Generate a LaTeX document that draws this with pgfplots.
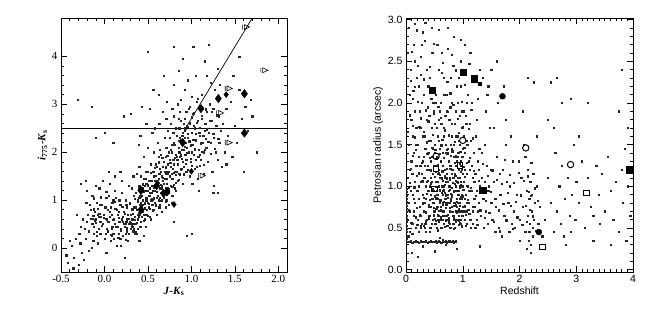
\documentclass[border=0pt]{standalone}
\usepackage{pgfplots}
\pgfplotsset{compat=1.18}
\usepackage{fontspec}
\setmainfont{Liberation Serif}
\newfontfamily\sansf{Liberation Sans}
\pgfdeclareplotmark{limarr}{%
  \pgfpathmoveto{\pgfqpoint{-\pgfplotmarksize}{-0.7\pgfplotmarksize}}%
  \pgfpathlineto{\pgfqpoint{-\pgfplotmarksize}{0.7\pgfplotmarksize}}%
  \pgfpathmoveto{\pgfqpoint{-0.5\pgfplotmarksize}{-0.7\pgfplotmarksize}}%
  \pgfpathlineto{\pgfqpoint{\pgfplotmarksize}{0pt}}%
  \pgfpathlineto{\pgfqpoint{-0.5\pgfplotmarksize}{0.7\pgfplotmarksize}}%
  \pgfpathclose
  \pgfusepathqstroke
}
\pgfplotsset{
  every axis/.append style={
    scale only axis, tick align=inside, major tick length=6pt, minor tick length=3pt,
    axis line style={line width=0.6pt}, every tick/.style={black, line width=0.5pt},
    /pgf/number format/assume math mode=true,
  },
  dots/.style={only marks, mark=square*, mark size=0.6pt, black!85, mark options={draw=none, fill=black!85}},
}
\begin{document}
\begin{tikzpicture}
\useasboundingbox (0pt,0pt) rectangle (651pt,312pt);
%---------------- left panel
\begin{axis}[at={(61pt,40pt)}, anchor=south west, width=226pt, height=254pt,
  xmin=-0.5, xmax=2.1, ymin=-0.5, ymax=4.8,
  xtick={-0.5,0,0.5,1,1.5,2}, ytick={0,1,2,3,4},
  minor x tick num=4, minor y tick num=4,
  xticklabel style={/pgf/number format/.cd, fixed, fixed zerofill, precision=1},
  ticklabel style={font=\fontsize{11}{12}\selectfont},
  xlabel={\textbf{\textit{J}-\textit{K}\textsubscript{s}}},
  ylabel={\textbf{\textit{i}\textsubscript{775}-\textit{K}\textsubscript{s}}},
  label style={font=\fontsize{11}{12}\selectfont},
  xlabel style={yshift=3pt}, ylabel style={yshift=-2pt},
]
\addplot[dots] coordinates {
(-0.42,-0.3) (-0.38,0.05) (-0.35,-0.2) (-0.33,0.2) (-0.30,-0.35) (-0.28,0.1) (-0.27,0.45) (-0.26,-0.1) (-0.40,0.15) (-0.36,-0.42) (-0.31,3.1) (-0.29,0.3) (-0.44,-0.15) (-0.25,0.6) (-0.32,0.7) (-0.27,1.35) (-0.22,1.4) (-0.24,-0.25)
(-0.22,0.2) (-0.2,0.55) (-0.19,0.7) (-0.18,0.35) (-0.17,0.9) (-0.16,0.62) (-0.15,0.0) (-0.14,1.1) (-0.13,0.68) (-0.12,0.45) (-0.11,0.75) (-0.10,0.6) (-0.09,0.25) (-0.08,0.82) (-0.07,0.65) (-0.06,1.25) (-0.05,0.55) (-0.21,0.95) (-0.18,-0.05) (-0.14,0.5) (-0.12,0.3) (-0.1,1.3) (-0.08,0.1) (-0.06,0.72) (-0.23,0.4) (-0.16,0.8) (-0.11,0.58) (-0.07,0.4) (-0.2,1.2) (-0.15,2.95) (-0.1,2.3) (-0.13,0.15) (-0.09,0.95) (-0.05,0.3)
(-0.04,0.66) (-0.03,0.9) (-0.02,0.5) (-0.01,0.7) (0.0,0.2) (0.01,0.62) (0.02,1.05) (0.03,0.4) (0.04,0.8) (0.05,0.55) (0.06,1.35) (0.07,0.15) (0.08,0.7) (0.09,0.95) (0.1,0.3) (0.11,0.6) (0.12,1.2) (0.13,0.45) (0.14,0.8) (0.0,0.85) (0.02,-0.1) (0.04,0.35) (0.06,0.65) (0.08,0.25) (0.1,1.0) (0.12,0.5) (0.14,0.05) (-0.02,1.4) (0.03,0.6) (0.07,0.85) (0.11,0.2) (0.13,1.05) (0.01,0.3) (0.05,1.1) (0.09,0.45) (0.15,0.7) (0.0,2.4) (0.05,1.6) (0.1,2.2) (0.12,1.5)
(0.16,0.3) (0.17,0.55) (0.18,0.9) (0.19,0.4) (0.2,0.6) (0.21,0.25) (0.22,0.75) (0.23,0.45) (0.24,1.0) (0.25,0.55) (0.26,0.35) (0.27,0.7) (0.28,0.5) (0.29,0.95) (0.3,0.4) (0.31,0.6) (0.32,0.8) (0.33,0.5) (0.34,1.1) (0.35,0.65) (0.16,0.75) (0.18,0.2) (0.2,1.15) (0.22,0.5) (0.24,0.3) (0.26,0.85) (0.28,0.3) (0.3,0.7) (0.32,0.45) (0.34,0.85) (0.17,1.0) (0.21,0.65) (0.25,0.9) (0.29,0.55) (0.33,0.35) (0.19,0.05) (0.23,-0.2) (0.27,0.15) (0.31,1.25) (0.35,0.3) (0.2,1.4) (0.28,1.3) (0.33,1.5) (0.22,2.75) (0.3,2.8) (0.18,1.6) (0.26,0.6) (0.3,0.52) (0.32,0.62) (0.24,0.5)
(0.36,0.5) (0.37,0.8) (0.38,1.0) (0.39,0.65) (0.4,1.3) (0.41,0.9) (0.42,0.55) (0.43,1.1) (0.44,0.75) (0.45,1.45) (0.46,0.95) (0.47,1.2) (0.48,0.7) (0.49,1.05) (0.5,1.6) (0.51,0.85) (0.52,1.25) (0.53,1.0) (0.54,1.4) (0.55,0.9) (0.36,1.15) (0.38,0.4) (0.4,0.7) (0.42,1.5) (0.44,1.0) (0.46,0.6) (0.48,1.35) (0.5,0.95) (0.52,0.65) (0.54,1.15) (0.37,0.3) (0.39,1.25) (0.41,0.45) (0.43,0.85) (0.45,0.7) (0.47,1.6) (0.49,0.8) (0.51,1.4) (0.53,1.75) (0.55,1.3) (0.36,0.85) (0.4,1.05) (0.44,1.25) (0.48,1.0) (0.52,1.1) (0.38,0.6) (0.42,0.95) (0.46,1.3) (0.5,1.2) (0.54,1.0) (0.4,1.7) (0.45,1.9) (0.5,2.1) (0.41,2.35) (0.48,2.6) (0.43,2.95) (0.39,2.15) (0.52,2.9) (0.37,1.55) (0.47,0.45) (0.53,0.6) (0.45,0.25) (0.5,4.1) (0.55,2.4) (0.4,0.15)
(0.56,1.2) (0.57,1.5) (0.58,0.95) (0.59,1.35) (0.6,1.7) (0.61,1.1) (0.62,1.45) (0.63,0.85) (0.64,1.25) (0.65,1.6) (0.66,1.0) (0.67,1.4) (0.68,1.8) (0.69,1.2) (0.7,1.55) (0.71,1.0) (0.72,1.35) (0.73,1.75) (0.74,1.15) (0.75,1.5) (0.56,0.8) (0.58,1.4) (0.6,1.05) (0.62,1.9) (0.64,0.9) (0.66,1.5) (0.68,1.1) (0.7,1.9) (0.72,1.6) (0.74,2.0) (0.57,1.05) (0.59,1.75) (0.61,1.3) (0.63,1.55) (0.65,1.15) (0.67,1.7) (0.69,1.45) (0.71,2.1) (0.73,1.25) (0.75,1.85) (0.56,1.6) (0.6,1.4) (0.64,1.65) (0.68,1.35) (0.72,1.45) (0.58,1.2) (0.62,1.0) (0.66,1.3) (0.7,1.25) (0.74,1.6) (0.57,2.0) (0.61,2.2) (0.65,1.95) (0.69,2.3) (0.73,2.45) (0.6,0.7) (0.66,0.75) (0.7,0.85) (0.63,2.6) (0.67,2.85) (0.71,2.7) (0.75,2.3) (0.62,3.2) (0.68,3.6) (0.72,3.05) (0.58,2.5) (0.74,0.9) (0.56,3.3) (0.64,2.05) (0.7,1.7)
(0.76,1.7) (0.77,2.0) (0.78,1.45) (0.79,1.85) (0.8,2.2) (0.81,1.6) (0.82,1.95) (0.83,2.35) (0.84,1.75) (0.85,2.1) (0.86,2.5) (0.87,1.9) (0.88,2.25) (0.89,1.65) (0.9,2.4) (0.91,2.05) (0.92,2.7) (0.93,2.2) (0.94,1.85) (0.95,2.55) (0.76,1.3) (0.78,2.15) (0.8,1.75) (0.82,2.5) (0.84,1.4) (0.86,2.0) (0.88,2.65) (0.9,1.8) (0.92,2.3) (0.94,2.85) (0.77,1.55) (0.79,2.4) (0.81,1.25) (0.83,1.9) (0.85,2.7) (0.87,2.3) (0.89,2.05) (0.91,1.55) (0.93,2.5) (0.95,2.1) (0.78,1.1) (0.82,1.2) (0.86,1.55) (0.9,1.35) (0.94,1.6) (0.76,2.6) (0.8,2.75) (0.84,3.0) (0.88,3.1) (0.92,3.3) (0.8,3.4) (0.85,3.7) (0.9,3.95) (0.8,4.2) (0.78,2.9) (0.87,2.85) (0.83,1.6) (0.91,2.6) (0.77,0.95) (0.93,1.95)
(0.96,2.3) (0.97,2.0) (0.98,2.6) (0.99,1.8) (1.0,2.4) (1.01,2.15) (1.02,2.8) (1.03,1.95) (1.04,2.5) (1.05,2.25) (1.06,1.7) (1.07,2.65) (1.08,2.05) (1.09,2.95) (1.1,2.35) (1.11,1.85) (1.12,2.7) (1.13,2.2) (1.14,1.55) (1.15,2.45) (0.97,2.9) (1.0,3.15) (1.03,2.55) (1.06,3.05) (1.09,2.4) (1.12,3.2) (0.98,1.5) (1.01,1.35) (1.04,1.65) (1.07,1.45) (1.1,1.95) (1.13,2.9) (0.96,3.5) (1.02,4.2) (1.05,3.6) (1.0,2.0) (1.08,1.2) (1.14,2.0)
(1.16,2.6) (1.17,2.1) (1.18,2.85) (1.19,1.8) (1.2,2.4) (1.21,3.0) (1.22,2.2) (1.23,2.65) (1.24,1.6) (1.25,2.9) (1.26,2.3) (1.27,3.3) (1.28,2.0) (1.29,2.55) (1.3,1.85) (1.31,2.75) (1.32,2.2) (1.33,3.4) (1.34,2.45) (1.35,1.7) (1.18,3.6) (1.22,3.45) (1.26,1.3) (1.3,3.75) (1.2,4.25) (1.15,3.9)
(1.36,2.6) (1.38,2.0) (1.4,2.9) (1.42,2.35) (1.45,3.05) (1.47,1.9) (1.5,2.55) (1.52,2.2) (1.55,3.3) (1.58,2.7) (1.6,1.6) (1.62,2.95) (1.65,2.45) (1.68,3.1) (1.7,2.75) (1.4,1.75) (1.48,3.6) (1.55,4.0) (1.3,1.15) (1.25,1.15) (1.75,2.0) (1.0,0.3) (0.95,0.25) (0.8,0.55)
(0.312,0.487) (0.327,0.712) (0.341,0.598) (0.356,0.843) (0.368,0.532) (0.382,0.967) (0.397,0.741) (0.411,1.083) (0.426,0.662) (0.438,0.912) (0.452,1.187) (0.467,0.831) (0.481,1.046) (0.494,1.312) (0.508,0.926) (0.521,1.153) (0.536,1.407) (0.549,1.021) (0.563,1.268) (0.577,0.947) (0.591,1.512) (0.604,1.183) (0.618,1.366) (0.632,1.057) (0.646,1.594) (0.659,1.247) (0.673,1.461) (0.687,1.126) (0.701,1.673) (0.714,1.338) (0.728,1.552) (0.742,1.229) (0.756,1.776) (0.769,1.441) (0.783,1.652) (0.797,1.318) (0.811,1.891) (0.824,1.537) (0.838,1.762) (0.852,1.419) (0.866,2.006) (0.879,1.643) (0.893,1.871) (0.907,1.532) (0.921,2.117) (0.934,1.754) (0.948,1.983) (0.962,1.637) (0.976,2.228) (0.989,1.866)
(0.318,0.823) (0.334,0.391) (0.349,1.028) (0.363,0.347) (0.378,0.694) (0.393,1.211) (0.407,0.448) (0.422,0.778) (0.436,1.334) (0.451,0.563) (0.465,0.936) (0.479,1.452) (0.493,0.682) (0.507,1.097) (0.522,0.817) (0.536,1.571) (0.551,0.778) (0.565,1.036) (0.579,1.683) (0.594,0.893) (0.608,1.412) (0.622,1.791) (0.637,0.987) (0.651,1.317) (0.665,1.887) (0.679,1.062) (0.694,1.598) (0.708,0.968) (0.722,1.931) (0.737,1.174) (0.751,1.487) (0.765,2.053) (0.779,1.283) (0.794,1.571) (0.808,2.152) (0.822,1.365) (0.837,1.847) (0.851,2.238) (0.865,1.528) (0.879,1.936) (0.894,2.337) (0.908,1.689) (0.922,2.452) (0.936,1.842) (0.951,2.531) (0.965,2.012) (0.979,2.611) (0.994,2.146) (1.008,2.732) (1.022,2.268)
(1.036,2.063) (1.051,2.387) (1.065,2.612) (1.079,1.912) (1.094,2.512) (1.108,2.187) (1.122,2.766) (1.137,2.341) (1.151,2.059) (1.165,2.897) (1.179,2.478) (1.194,2.213) (1.208,2.653) (1.222,1.968) (1.237,2.842) (1.251,2.391) (1.265,2.073) (1.279,2.547) (1.294,2.771) (1.308,2.281) (0.961,2.388) (0.983,2.942) (1.004,1.721) (1.027,2.832) (1.048,1.841) (1.071,3.112) (1.093,1.718) (1.115,2.013) (1.138,1.732) (1.161,2.283)
(-0.142,0.614) (-0.121,0.812) (-0.098,0.527) (-0.076,0.703) (-0.054,0.911) (-0.032,0.462) (-0.011,0.638) (0.012,0.851) (0.034,0.547) (0.057,0.762) (0.079,0.398) (0.101,0.583) (0.123,0.827) (0.146,0.451) (0.168,0.626) (0.191,0.368) (0.213,0.547) (0.236,0.721) (0.258,0.412) (0.281,0.613) (-0.087,0.347) (-0.043,1.062) (0.021,1.183) (0.068,0.271) (0.112,0.972) (0.157,0.217) (0.203,0.862) (0.248,0.176) (0.293,0.932) (-0.128,1.041)
};
\addplot[black, line width=0.7pt] coordinates {(-0.5,2.5) (2.1,2.5)};
\addplot[black, line width=0.7pt] coordinates {(0.933,2.5) (1.7,4.8)};
\addplot[only marks, mark=diamond*, mark size=4.2pt, black] coordinates {
(0.42,1.2) (0.42,0.8) (0.6,1.3) (0.68,1.14) (0.72,1.17) (0.9,2.2) (1.11,2.91) (1.31,3.12) (1.61,3.22) (1.61,2.40)};
\addplot[only marks, mark=diamond*, mark size=3pt, black] coordinates {
(0.80,0.91) (1.0,1.6) (1.40,3.2)};
\addplot[only marks, mark=limarr, mark size=3.5pt, black, line width=0.6pt] coordinates {
(1.63,4.61) (1.84,3.71) (1.43,3.33) (1.33,2.82) (1.43,2.20) (1.12,1.51)};
\end{axis}
%---------------- right panel
\begin{axis}[at={(406pt,40pt)}, anchor=south west, width=227pt, height=254pt,
  xmin=0, xmax=4, ymin=-0.03, ymax=3.02,
  xtick={0,1,2,3,4}, ytick={0,0.5,1,1.5,2,2.5,3},
  minor x tick num=9, minor y tick num=4,
  yticklabel style={/pgf/number format/.cd, fixed, fixed zerofill, precision=1},
  ticklabel style={font=\sansf\fontsize{10.5}{12}\selectfont},
  xlabel={Redshift}, ylabel={Petrosian radius (arcsec)},
  label style={font=\sansf\fontsize{10.5}{12}\selectfont},
  xlabel style={yshift=3pt}, ylabel style={yshift=-2pt},
]
\addplot[dots] coordinates {
(0.02,0.6) (0.03,1.1) (0.04,0.8) (0.05,1.5) (0.06,0.45) (0.07,2.1) (0.08,0.95) (0.09,1.3) (0.03,2.6) (0.05,2.9) (0.07,0.7) (0.09,1.8) (0.04,0.4) (0.06,1.2) (0.08,2.4) (0.02,1.65)
(0.11,0.55) (0.12,0.9) (0.13,1.4) (0.14,0.7) (0.15,1.9) (0.16,1.05) (0.17,0.5) (0.18,1.25) (0.19,2.3) (0.12,1.6) (0.14,2.7) (0.16,0.8) (0.18,1.7) (0.11,1.15) (0.13,0.65) (0.15,2.95) (0.17,1.5) (0.19,0.95) (0.12,2.05) (0.16,2.5)
(0.21,0.6) (0.22,1.0) (0.23,1.35) (0.24,0.75) (0.25,1.7) (0.26,0.5) (0.27,1.15) (0.28,2.0) (0.29,0.9) (0.21,1.5) (0.23,2.2) (0.25,0.65) (0.27,2.7) (0.29,1.3) (0.22,0.85) (0.24,1.9) (0.26,1.05) (0.28,0.55) (0.3,1.6) (0.21,2.45) (0.25,1.25) (0.29,2.85) (0.23,0.45)
(0.31,0.7) (0.32,1.1) (0.33,0.5) (0.34,1.45) (0.35,0.85) (0.36,1.8) (0.37,0.6) (0.38,1.25) (0.39,0.95) (0.31,2.1) (0.33,1.6) (0.35,1.0) (0.37,2.4) (0.39,1.4) (0.32,0.8) (0.34,0.55) (0.36,1.2) (0.38,1.95) (0.4,0.75) (0.31,1.35) (0.33,2.75) (0.35,0.45) (0.37,1.05) (0.39,2.2) (0.4,1.55)
(0.41,0.65) (0.42,1.0) (0.43,1.3) (0.44,0.5) (0.45,1.7) (0.46,0.85) (0.47,1.15) (0.48,2.0) (0.49,0.7) (0.5,1.4) (0.41,1.85) (0.43,0.9) (0.45,1.05) (0.47,0.6) (0.49,1.25) (0.42,2.3) (0.44,1.55) (0.46,2.6) (0.48,0.95) (0.5,0.55) (0.41,1.2) (0.43,0.75) (0.45,2.9) (0.47,1.45) (0.49,1.9) (0.42,0.45) (0.44,1.1) (0.46,1.35) (0.48,0.8)
(0.51,0.7) (0.52,1.05) (0.53,0.55) (0.54,1.35) (0.55,0.9) (0.56,1.6) (0.57,0.65) (0.58,1.2) (0.59,0.8) (0.6,1.9) (0.51,1.5) (0.53,2.1) (0.55,0.75) (0.57,1.0) (0.59,1.45) (0.52,0.85) (0.54,0.5) (0.56,1.15) (0.58,2.4) (0.6,0.95) (0.51,1.75) (0.53,1.25) (0.55,2.7) (0.57,1.8) (0.59,0.6) (0.52,2.0) (0.54,0.95) (0.56,0.6) (0.58,1.55) (0.6,1.1)
(0.61,0.75) (0.62,1.1) (0.63,0.6) (0.64,1.4) (0.65,0.9) (0.66,1.7) (0.67,0.55) (0.68,1.2) (0.69,0.85) (0.7,1.5) (0.61,2.0) (0.63,1.0) (0.65,1.25) (0.67,0.7) (0.69,1.85) (0.62,0.5) (0.64,0.95) (0.66,2.3) (0.68,0.65) (0.7,1.05) (0.61,1.3) (0.63,2.6) (0.65,0.8) (0.67,1.6) (0.69,1.1) (0.62,1.75) (0.64,0.7) (0.66,1.0) (0.68,2.1) (0.7,0.6)
(0.71,0.8) (0.72,1.15) (0.73,0.6) (0.74,1.45) (0.75,0.95) (0.76,1.8) (0.77,0.7) (0.78,1.25) (0.79,0.85) (0.8,1.6) (0.71,2.1) (0.73,1.05) (0.75,1.3) (0.77,0.55) (0.79,2.3) (0.72,0.65) (0.74,0.9) (0.76,1.0) (0.78,1.95) (0.8,0.75) (0.71,1.4) (0.73,2.65) (0.75,0.6) (0.77,1.1) (0.79,1.5) (0.72,1.9) (0.74,2.9) (0.76,0.8) (0.78,0.5) (0.8,1.2)
(0.81,0.9) (0.82,1.2) (0.83,0.65) (0.84,1.5) (0.85,0.8) (0.86,1.75) (0.87,1.0) (0.88,0.6) (0.89,1.3) (0.9,0.85) (0.81,2.0) (0.83,1.1) (0.85,1.35) (0.87,0.7) (0.89,2.2) (0.82,0.55) (0.84,0.95) (0.86,1.15) (0.88,1.6) (0.9,1.05) (0.81,1.45) (0.83,2.45) (0.85,0.6) (0.87,1.9) (0.89,0.75) (0.84,2.8) (0.86,0.5) (0.88,1.25)
(0.91,0.7) (0.92,0.95) (0.93,1.2) (0.94,0.8) (0.95,1.5) (0.96,0.6) (0.97,1.05) (0.98,0.9) (0.99,1.35) (1.0,0.75) (0.91,1.6) (0.92,1.1) (0.93,0.65) (0.94,1.85) (0.95,0.85) (0.96,1.25) (0.97,0.55) (0.98,1.7) (0.99,1.0) (1.0,1.45) (0.91,2.0) (0.93,0.9) (0.95,1.1) (0.97,2.2) (0.99,0.65) (0.92,1.4) (0.94,1.0) (0.96,2.5) (0.98,0.7) (1.0,1.15) (0.93,1.55) (0.95,0.7) (0.97,1.3) (0.99,1.9) (0.92,0.6)
(1.01,0.7) (1.02,1.05) (1.03,1.4) (1.04,0.6) (1.05,0.9) (1.06,1.75) (1.07,1.15) (1.08,0.8) (1.09,2.1) (1.1,1.3) (1.01,1.6) (1.03,0.85) (1.05,2.4) (1.07,0.55) (1.09,1.0) (1.02,1.9) (1.04,1.2) (1.06,0.7) (1.08,1.5) (1.1,0.95) (1.03,2.7) (1.07,2.0)
(1.11,0.8) (1.12,1.2) (1.13,0.6) (1.14,1.55) (1.15,0.95) (1.16,2.0) (1.17,1.1) (1.18,0.7) (1.19,1.4) (1.2,0.85) (1.12,1.75) (1.14,0.5) (1.16,1.25) (1.18,2.3) (1.2,1.05) (1.13,2.6) (1.17,0.55)
(1.21,0.75) (1.22,1.15) (1.23,1.6) (1.24,0.6) (1.25,0.95) (1.26,1.3) (1.27,2.05) (1.28,0.8) (1.29,1.45) (1.3,1.0) (1.22,0.5) (1.24,1.8) (1.26,0.7) (1.28,1.2) (1.3,2.4)
(1.32,0.65) (1.34,1.1) (1.36,0.85) (1.38,1.5) (1.4,0.7) (1.42,1.25) (1.44,0.55) (1.46,1.0) (1.48,1.7) (1.5,0.8) (1.33,1.4) (1.37,0.5) (1.41,1.9) (1.45,0.95) (1.49,1.2) (1.35,2.3) (1.43,2.1) (1.39,1.05)
(1.52,0.6) (1.55,1.05) (1.58,0.75) (1.6,1.35) (1.63,0.5) (1.66,0.9) (1.7,1.2) (1.73,0.65) (1.76,1.5) (1.8,0.8) (1.83,1.0) (1.86,0.55) (1.88,1.3) (1.54,1.7) (1.62,2.0) (1.68,0.4) (1.75,1.8) (1.82,0.45) (1.57,0.45) (1.65,1.15) (1.78,1.05) (1.85,1.6) (1.9,0.7) (1.6,2.5) (1.72,2.2) (1.5,2.4) (1.45,2.2)
(1.92,0.5) (1.95,0.9) (1.98,1.3) (2.0,0.6) (2.03,1.1) (2.05,0.75) (2.08,1.5) (2.1,0.45) (2.12,0.95) (2.14,0.65) (2.15,1.2) (2.16,0.35) (2.17,0.85) (2.18,0.55) (2.19,1.05) (2.2,0.3) (2.21,0.7) (2.22,0.9) (2.23,0.4) (2.24,1.15) (2.25,0.6) (2.27,0.8) (2.3,1.0) (2.33,0.55) (2.36,0.75) (2.4,0.4) (2.15,2.3) (2.05,1.9) (2.25,2.25) (2.3,1.6) (2.0,0.35) (2.1,1.35) (2.13,0.25) (2.2,0.2)
(2.45,0.6) (2.5,1.1) (2.55,0.8) (2.6,0.45) (2.63,1.4) (2.66,0.7) (2.7,1.0) (2.72,0.55) (2.75,1.25) (2.78,0.4) (2.8,0.85) (2.82,0.3) (2.85,1.1) (2.88,0.65) (2.9,0.45) (2.92,0.9) (2.95,1.5) (2.98,0.6) (3.0,1.05) (3.05,0.8) (3.1,1.3) (3.15,0.5) (3.2,1.1) (3.25,0.75) (3.3,0.35) (3.35,1.25) (3.4,0.9) (3.42,0.55) (3.45,1.15) (3.5,0.7) (3.55,1.35) (3.6,0.95) (3.65,0.6) (3.7,1.05) (3.75,0.45) (3.8,1.2) (3.82,0.8) (3.85,1.45) (3.88,0.35) (3.9,1.0) (3.95,0.65) (2.9,2.05) (2.55,2.25) (2.65,2.3) (3.2,2.0) (3.8,2.4) (3.9,1.7) (3.75,1.9) (2.75,2.0) (3.05,1.6) (2.5,1.8) (3.6,0.3) (3.3,0.65) (2.6,1.7)
(0.05,0.33) (0.08,0.34) (0.11,0.32) (0.14,0.33) (0.17,0.34) (0.2,0.33) (0.23,0.32) (0.26,0.34) (0.29,0.33) (0.32,0.33) (0.35,0.34) (0.38,0.32) (0.41,0.33) (0.44,0.34) (0.47,0.33) (0.5,0.33) (0.52,0.34) (0.54,0.32) (0.56,0.33) (0.58,0.34) (0.6,0.33) (0.62,0.32) (0.64,0.34) (0.66,0.33) (0.68,0.33) (0.7,0.34) (0.72,0.32) (0.74,0.33) (0.76,0.34) (0.78,0.33) (0.8,0.33) (0.82,0.34) (0.84,0.32) (0.86,0.33) (0.88,0.34) (0.3,0.28) (0.6,0.38) (0.7,0.3) (0.65,0.36)
(0.01,0.33) (0.01,0.37) (0.01,0.41) (0.01,0.45) (0.01,0.49) (0.01,0.53) (0.01,0.57) (0.01,0.61) (0.01,0.65) (0.01,0.69) (0.01,0.73) (0.01,0.77) (0.01,0.81) (0.01,0.85) (0.01,0.89) (0.01,0.93) (0.01,0.97)
(0.1,0.2) (0.2,0.15) (0.5,0.22) (0.9,0.25) (1.3,0.28)
(0.312,0.523) (0.347,0.688) (0.366,0.912) (0.384,1.071) (0.402,0.617) (0.421,0.834) (0.437,1.192) (0.455,0.547) (0.473,0.973) (0.489,0.741) (0.506,1.118) (0.522,0.582) (0.538,0.866) (0.557,1.263) (0.573,0.704) (0.591,0.951) (0.607,0.628) (0.626,1.087) (0.644,0.779) (0.661,1.341) (0.678,0.516) (0.695,0.893) (0.713,1.214) (0.731,0.662) (0.748,1.003) (0.766,0.547) (0.783,0.828) (0.801,1.152) (0.818,0.695) (0.836,0.937) (0.853,1.287) (0.871,0.572) (0.889,0.814) (0.906,1.048) (0.923,0.733) (0.941,0.989) (0.958,1.173) (0.976,0.648) (0.993,0.881) (1.012,1.231) (1.028,0.759) (1.046,0.526) (1.063,1.006) (1.081,0.842)
(0.305,0.861) (0.328,1.244) (0.351,0.579) (0.372,1.387) (0.395,0.773) (0.416,0.498) (0.441,1.036) (0.463,1.462) (0.484,0.652) (0.509,0.881) (0.531,1.328) (0.552,0.473) (0.576,1.165) (0.598,0.822) (0.619,1.493) (0.641,0.594) (0.663,0.951) (0.684,1.126) (0.706,0.743) (0.727,1.397) (0.749,0.567) (0.771,1.082) (0.792,0.912) (0.814,1.421) (0.835,0.489) (0.857,1.031) (0.879,0.781) (0.901,1.352) (0.922,0.542) (0.944,1.268) (0.966,0.872) (0.987,0.521) (1.009,0.962) (1.031,1.117) (1.052,0.655) (1.074,1.283) (1.095,0.721)
(0.318,1.652) (0.343,1.913) (0.369,1.528) (0.392,1.781) (0.418,1.347) (0.444,2.052) (0.467,1.616) (0.493,1.874) (0.516,1.442) (0.541,1.703) (0.566,1.958) (0.589,1.387) (0.614,1.822) (0.638,1.561) (0.662,2.103) (0.687,1.673) (0.711,1.438) (0.736,1.891) (0.759,1.612) (0.784,1.362) (0.808,1.747) (0.833,1.981) (0.857,1.533) (0.881,1.367) (0.905,1.806) (0.929,1.642) (0.954,1.412) (0.978,2.018) (1.003,1.708) (1.027,1.462) (1.052,1.851) (1.076,1.545) (1.101,1.688) (1.125,1.339) (1.149,1.917) (1.174,1.576)
(0.052,0.712) (0.071,1.046) (0.093,0.563) (0.112,1.362) (0.131,0.847) (0.153,1.589) (0.172,0.628) (0.191,1.127) (0.213,0.942) (0.232,1.713) (0.254,0.521) (0.273,1.278) (0.291,0.796) (0.064,1.853) (0.087,1.214) (0.108,0.431) (0.127,2.147) (0.146,0.988) (0.167,1.442) (0.186,0.742) (0.207,2.012) (0.226,1.156) (0.247,0.657) (0.266,1.817) (0.287,1.061) (0.045,0.982) (0.118,1.731) (0.198,0.537) (0.262,2.338) (0.079,2.271)
(0.503,0.612) (0.517,0.991) (0.532,0.733) (0.548,1.052) (0.561,0.851) (0.579,0.577) (0.594,1.137) (0.611,0.712) (0.623,0.923) (0.639,1.181) (0.652,0.649) (0.669,0.818) (0.682,1.023) (0.697,0.587) (0.709,0.781) (0.724,1.097) (0.739,0.859) (0.752,0.621) (0.767,0.957) (0.779,1.207) (0.794,0.698) (0.807,0.874) (0.823,1.041) (0.838,0.617) (0.851,0.769) (0.866,1.126) (0.879,0.943) (0.894,0.681) (0.907,0.806) (0.919,1.103) (0.933,0.592) (0.947,0.767) (0.961,1.014) (0.974,0.853) (0.987,1.197) (0.952,0.557) (0.914,0.901) (0.876,1.063) (0.843,0.554) (0.811,0.981) (0.768,0.739) (0.726,0.524) (0.688,0.919) (0.646,1.066) (0.603,0.832) (0.565,0.652) (0.527,1.174)
(1.114,0.671) (1.143,0.983) (1.172,0.754) (1.196,1.187) (1.224,0.886) (1.253,0.541) (1.277,1.068) (1.306,0.712) (1.332,0.941) (1.358,1.267) (1.384,0.618) (1.411,0.826) (1.437,1.127) (1.466,0.683) (1.492,0.934) (1.518,1.193) (1.547,0.571) (1.572,0.853) (1.603,1.082) (1.628,0.712) (1.656,0.461) (1.684,1.028) (1.712,0.794) (1.739,1.316) (1.767,0.592) (1.793,0.918) (1.821,1.137) (1.849,0.763) (1.876,0.486) (1.904,1.042) (1.932,0.812) (1.958,0.627) (1.987,1.167) (2.017,0.893) (2.046,0.537) (2.074,1.063) (2.103,0.769) (2.128,0.574) (2.158,0.932) (2.183,0.722) (2.207,1.284) (2.236,0.641) (2.261,0.977) (2.289,0.468) (2.318,0.823) (2.226,0.501) (2.198,0.882) (2.171,0.452) (2.142,1.121)
(0.107,2.617) (0.184,2.874) (0.262,2.553) (0.338,2.962) (0.415,2.431) (0.494,2.713) (0.571,2.884) (0.648,2.487) (0.726,2.251) (0.803,2.579) (0.881,2.392) (0.958,2.761) (1.036,2.218) (1.113,2.473) (0.157,2.193) (0.312,2.286) (0.468,2.148) (0.623,2.367) (0.779,2.118) (0.934,2.304)
};
\addplot[only marks, mark=square*, mark size=3.2pt, black] coordinates {
(0.46,2.15) (1.01,2.37) (1.20,2.29) (1.35,0.95) (3.93,1.20)};
\addplot[only marks, mark=square*, mark size=1.5pt, black] coordinates {(1.30,2.23)};
\addplot[only marks, mark=*, mark size=3pt, black] coordinates {(1.70,2.08) (2.34,0.45)};
\addplot[only marks, mark=o, mark size=3.2pt, black, line width=1pt, mark options={fill=white}] coordinates {(2.11,1.46) (2.90,1.26) (1.0,1.55) (0.53,1.36)};
\addplot[only marks, mark=square, mark size=2.8pt, black, line width=0.8pt, mark options={fill=white}] coordinates {(3.18,0.92) (2.40,0.27) (0.95,1.25) (0.5,0.97) (0.53,1.21)};
\end{axis}
\end{tikzpicture}
\end{document}
